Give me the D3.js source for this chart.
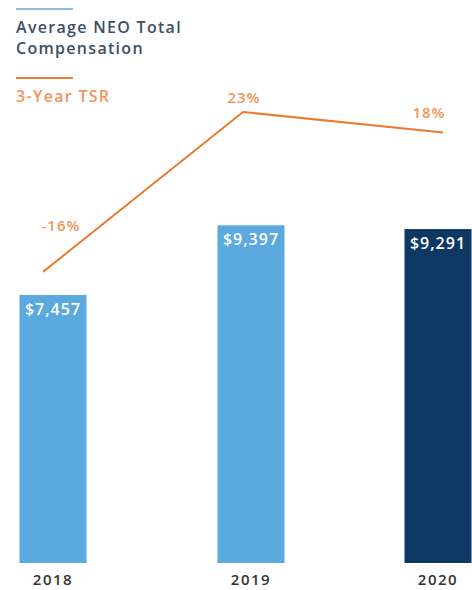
<!DOCTYPE html>
<html>
<head>
<meta charset="utf-8">
<script src="https://cdn.jsdelivr.net/npm/d3@7"></script>
<style>
  body { margin: 0; background: #fff; }
  svg { display: block; font-family: "Open Sans", sans-serif; }
</style>
</head>
<body>
<svg id="chart" width="472" height="590"></svg>
<script>
const years = ['2018', '2019', '2020'];
const compensation = [7457, 9397, 9291];
const tsr = [-16, 23, 18];
const legendLabels = [['Average NEO Total', 'Compensation'], ['3-Year TSR']];

const width = 472,
  height = 590,
  barWidth = 67,
  blue = '#5aa9df',
  navy = '#0c3863',
  orange = '#ec7b2f',
  orangeText = '#f1955a',
  slate = '#3e5064';

const svg = d3.select('#chart');

// bar centres aren't evenly spaced in the original (chart is cropped on the right)
const x = d3.scaleOrdinal().domain(years).range([53, 251, 438]);
const xLine = d3.scalePoint().domain(years).range([43, 443]);

const y = d3.scaleLinear().domain([0, 10000]).range([563, 203.6]);
const y2 = d3.scaleLinear().domain([0, 23]).range([206.3, 112]);

// bars
svg.selectAll('rect.bar')
  .data(years)
  .join('rect')
  .attr('class', 'bar')
  .attr('x', d => x(d) - barWidth / 2)
  .attr('y', (d, i) => y(compensation[i]))
  .attr('width', barWidth)
  .attr('height', (d, i) => y(0) - y(compensation[i]))
  .attr('fill', (d, i) => (i === years.length - 1 ? navy : blue));

svg.selectAll('text.val')
  .data(years)
  .join('text')
  .attr('class', 'val')
  .attr('x', d => x(d))
  .attr('y', (d, i) => y(compensation[i]) + 20)
  .attr('text-anchor', 'middle')
  .attr('fill', '#fff')
  .style('font-size', '16px')
  .style('letter-spacing', '1px')
  .style('font-weight', 600)
  .text((d, i) => '$' + d3.format(',')(compensation[i]));

// year axis
svg.selectAll('text.year')
  .data(years)
  .join('text')
  .attr('class', 'year')
  .attr('x', d => x(d))
  .attr('y', 585)
  .attr('text-anchor', 'middle')
  .attr('fill', '#333')
  .style('font-size', '15px')
  .style('letter-spacing', '1.5px')
  .style('font-weight', 600)
  .text(d => d);

// TSR line
const line = d3.line()
  .x((d, i) => xLine(years[i]))
  .y(d => y2(d));

svg.append('path')
  .datum(tsr)
  .attr('d', line)
  .attr('fill', 'none')
  .attr('stroke', orange)
  .attr('stroke-width', 2);

// labels were nudged by hand in the original
const labelShift = [[18, -41], [1, -9], [-14, -15]];
svg.selectAll('text.tsr')
  .data(tsr)
  .join('text')
  .attr('class', 'tsr')
  .attr('x', (d, i) => xLine(years[i]) + labelShift[i][0])
  .attr('y', (d, i) => y2(d) + labelShift[i][1])
  .attr('text-anchor', 'middle')
  .attr('fill', orangeText)
  .style('font-size', '15px')
  .style('letter-spacing', '1px')
  .style('font-weight', 600)
  .text(d => d + '%');

// legend
const legend = svg.append('g').attr('transform', 'translate(16,0)');
const legendColors = [['#8fbde0', slate], [orange, orangeText]];
const legendTop = [9, 78];

legendLabels.forEach((lines, k) => {
  legend.append('line')
    .attr('x1', 0)
    .attr('x2', 57)
    .attr('y1', legendTop[k])
    .attr('y2', legendTop[k])
    .attr('stroke', legendColors[k][0])
    .attr('stroke-width', 2);
  lines.forEach((t, j) => {
    legend.append('text')
      .attr('x', 0)
      .attr('y', legendTop[k] + 24 + j * 21)
      .attr('fill', legendColors[k][1])
      .style('font-size', '16px')
      .style('letter-spacing', '1.3px')
      .style('font-weight', 600)
      .text(t);
  });
});
</script>
</body>
</html>
